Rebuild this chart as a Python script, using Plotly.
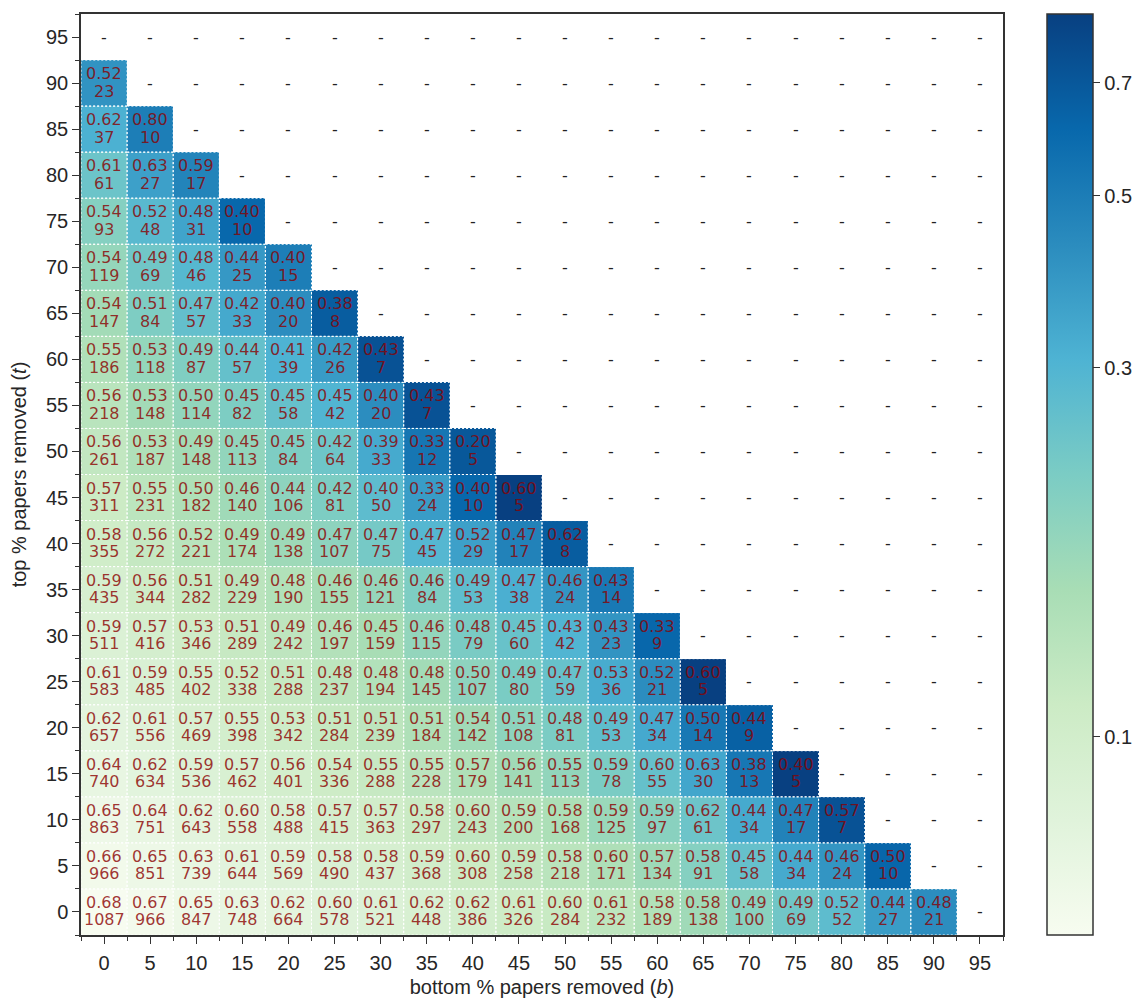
import numpy as np
import plotly.graph_objects as go

bottom_pct = list(range(0, 100, 5))   # x categories: bottom % papers removed (b)
top_pct = list(range(0, 100, 5))      # y categories: top % papers removed (t)
colorbar_ticks = [0.1, 0.3, 0.5, 0.7]

# Row k corresponds to top_pct[k]; entries run over bottom_pct from 0 upwards.
share_rows = [
    [0.68, 0.67, 0.65, 0.63, 0.62, 0.60, 0.61, 0.62, 0.62, 0.61, 0.60, 0.61, 0.58, 0.58, 0.49, 0.49, 0.52, 0.44, 0.48],
    [0.66, 0.65, 0.63, 0.61, 0.59, 0.58, 0.58, 0.59, 0.60, 0.59, 0.58, 0.60, 0.57, 0.58, 0.45, 0.44, 0.46, 0.50],
    [0.65, 0.64, 0.62, 0.60, 0.58, 0.57, 0.57, 0.58, 0.60, 0.59, 0.58, 0.59, 0.59, 0.62, 0.44, 0.47, 0.57],
    [0.64, 0.62, 0.59, 0.57, 0.56, 0.54, 0.55, 0.55, 0.57, 0.56, 0.55, 0.59, 0.60, 0.63, 0.38, 0.40],
    [0.62, 0.61, 0.57, 0.55, 0.53, 0.51, 0.51, 0.51, 0.54, 0.51, 0.48, 0.49, 0.47, 0.50, 0.44],
    [0.61, 0.59, 0.55, 0.52, 0.51, 0.48, 0.48, 0.48, 0.50, 0.49, 0.47, 0.53, 0.52, 0.60],
    [0.59, 0.57, 0.53, 0.51, 0.49, 0.46, 0.45, 0.46, 0.48, 0.45, 0.43, 0.43, 0.33],
    [0.59, 0.56, 0.51, 0.49, 0.48, 0.46, 0.46, 0.46, 0.49, 0.47, 0.46, 0.43],
    [0.58, 0.56, 0.52, 0.49, 0.49, 0.47, 0.47, 0.47, 0.52, 0.47, 0.62],
    [0.57, 0.55, 0.50, 0.46, 0.44, 0.42, 0.40, 0.33, 0.40, 0.60],
    [0.56, 0.53, 0.49, 0.45, 0.45, 0.42, 0.39, 0.33, 0.20],
    [0.56, 0.53, 0.50, 0.45, 0.45, 0.45, 0.40, 0.43],
    [0.55, 0.53, 0.49, 0.44, 0.41, 0.42, 0.43],
    [0.54, 0.51, 0.47, 0.42, 0.40, 0.38],
    [0.54, 0.49, 0.48, 0.44, 0.40],
    [0.54, 0.52, 0.48, 0.40],
    [0.61, 0.63, 0.59],
    [0.62, 0.80],
    [0.52],
]

count_rows = [
    [1087, 966, 847, 748, 664, 578, 521, 448, 386, 326, 284, 232, 189, 138, 100, 69, 52, 27, 21],
    [966, 851, 739, 644, 569, 490, 437, 368, 308, 258, 218, 171, 134, 91, 58, 34, 24, 10],
    [863, 751, 643, 558, 488, 415, 363, 297, 243, 200, 168, 125, 97, 61, 34, 17, 7],
    [740, 634, 536, 462, 401, 336, 288, 228, 179, 141, 113, 78, 55, 30, 13, 5],
    [657, 556, 469, 398, 342, 284, 239, 184, 142, 108, 81, 53, 34, 14, 9],
    [583, 485, 402, 338, 288, 237, 194, 145, 107, 80, 59, 36, 21, 5],
    [511, 416, 346, 289, 242, 197, 159, 115, 79, 60, 42, 23, 9],
    [435, 344, 282, 229, 190, 155, 121, 84, 53, 38, 24, 14],
    [355, 272, 221, 174, 138, 107, 75, 45, 29, 17, 8],
    [311, 231, 182, 140, 106, 81, 50, 24, 10, 5],
    [261, 187, 148, 113, 84, 64, 33, 12, 5],
    [218, 148, 114, 82, 58, 42, 20, 7],
    [186, 118, 87, 57, 39, 26, 7],
    [147, 84, 57, 33, 20, 8],
    [119, 69, 46, 25, 15],
    [93, 48, 31, 10],
    [61, 27, 17],
    [37, 10],
    [23],
]

GNBU = ["#f7fcf0", "#e0f3db", "#ccebc5", "#a8ddb5", "#7bccc4",
        "#4eb3d3", "#2b8cbe", "#0868ac", "#084081"]
colorscale = [[i / (len(GNBU) - 1), c] for i, c in enumerate(GNBU)]

FONT = "Liberation Sans, Arial"
TXT = "#262626"
CELL_FONT = dict(family="DejaVu Sans", size=16, color="rgba(139,0,0,0.8)")
DASH_FONT = dict(family="DejaVu Sans", size=16, color="#222222")

nx, ny = len(bottom_pct), len(top_pct)
z = [[None] * nx for _ in range(ny)]
shapes, annotations = [], []
step = bottom_pct[1] - bottom_pct[0]
for j, t in enumerate(top_pct):
    shares = share_rows[j] if j < len(share_rows) else []
    counts = count_rows[j] if j < len(count_rows) else []
    for i, b in enumerate(bottom_pct):
        if i < len(shares):
            p, n = shares[i], counts[i]
            # colour: width of the 95% confidence interval of the share (log scale)
            width = 2 * 1.96 * np.sqrt(p * (1 - p) / n)
            z[j][i] = float(np.log10(width))
            annotations.append(dict(x=b, y=t, xref="x", yref="y", text=f"{p:.2f}",
                                    showarrow=False, font=CELL_FONT, yshift=9.5))
            annotations.append(dict(x=b, y=t, xref="x", yref="y", text=f"{n}",
                                    showarrow=False, font=CELL_FONT, yshift=-8))
            shapes.append(dict(type="rect", xref="x", yref="y",
                               x0=b - step / 2, x1=b + step / 2,
                               y0=t - step / 2, y1=t + step / 2,
                               line=dict(color="white", width=1, dash="2px,2px"),
                               layer="above"))
        else:
            annotations.append(dict(x=b, y=t, xref="x", yref="y", text="-",
                                    showarrow=False, font=DASH_FONT))

zvals = [v for row in z for v in row if v is not None]
zmin, zmax = min(zvals), max(zvals)

fig = go.Figure()
fig.add_trace(go.Heatmap(
    z=z, x=bottom_pct, y=top_pct,
    colorscale=colorscale, zmin=zmin, zmax=zmax,
    hoverongaps=False,
    colorbar=dict(
        x=(1047 - 81) / 922, xanchor="left", xref="paper",
        y=0.5, yanchor="middle", len=1, lenmode="fraction",
        thickness=46, xpad=0, ypad=0,
        outlinewidth=1.5, outlinecolor="#333333",
        tickvals=[float(np.log10(v)) for v in colorbar_ticks],
        ticktext=[str(v) for v in colorbar_ticks],
        ticks="outside", ticklen=7, tickwidth=1.2, tickcolor="#333333",
        tickfont=dict(family=FONT, size=20, color=TXT),
    ),
))

edges = [b - step / 2 for b in bottom_pct] + [bottom_pct[-1] + step / 2]
axis_common = dict(
    range=[bottom_pct[0] - step / 2, bottom_pct[-1] + step / 2],
    tickmode="array", tickvals=bottom_pct, ticktext=[str(v) for v in bottom_pct],
    ticks="outside", ticklen=7, tickwidth=1.2, tickcolor="#333333",
    tickfont=dict(family=FONT, size=20, color=TXT),
    showline=True, linecolor="#333333", linewidth=1.5, mirror=True,
    showgrid=False, zeroline=False,
    minor=dict(tickvals=edges, ticks="outside", ticklen=4, tickwidth=1, tickcolor="#333333", showgrid=False),
)
fig.update_xaxes(**axis_common, ticklabelstandoff=2,
                 title=dict(text="bottom % papers removed (<i>b</i>)", standoff=7,
                            font=dict(family=FONT, size=20, color=TXT)))
fig.update_yaxes(**axis_common,
                 title=dict(text="top % papers removed (<i>t</i>)", standoff=16,
                            font=dict(family=FONT, size=20, color=TXT)))

# The page body adds an 8px offset, so the figure is sized and placed to compensate.
fig.update_layout(
    width=1137, height=991,
    margin=dict(l=73, r=142, t=6, b=64, autoexpand=False),
    plot_bgcolor="white", paper_bgcolor="white",
    shapes=shapes, annotations=annotations,
    showlegend=False,
)

fig.write_html("out.html")
